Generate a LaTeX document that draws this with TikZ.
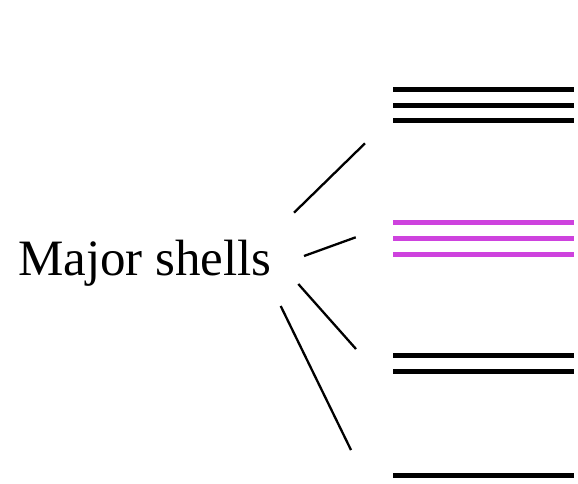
\documentclass[tikz,border=0pt]{standalone}
\usepackage{fontspec}
\setmainfont{Liberation Serif}
\definecolor{shellmag}{RGB}{206,66,222}
\begin{document}
\begin{tikzpicture}[x=1pt,y=-1pt,
  level/.style={line width=5pt},
  conn/.style={line width=2.3pt},
  lbl/.style={font=\fontsize{51}{60}\selectfont,anchor=base,inner sep=0pt}]
\useasboundingbox (0,0) rectangle (578,483);
% levels
\foreach \y in {89.3,105,120.7,355.7,371.7,475.7}
  \draw[level] (393.3,\y) -- (574.3,\y);
\foreach \y in {222.3,238.3,254}
  \draw[level,shellmag] (393.3,\y) -- (574.3,\y);
% label
\node[lbl] (ms) at (145,275) {Major shells};
% connectors
\coordinate (a1) at (294,212.7); \coordinate (b1) at (365,143.3);
\coordinate (a2) at (304,256);   \coordinate (b2) at (355.7,237.3);
\coordinate (a3) at (298.3,284); \coordinate (b3) at (356,349);
\coordinate (a4) at (280.7,306); \coordinate (b4) at (351,450);
\draw[conn] (a1) -- (b1);
\draw[conn] (a2) -- (b2);
\draw[conn] (a3) -- (b3);
\draw[conn] (a4) -- (b4);
\end{tikzpicture}
\end{document}
